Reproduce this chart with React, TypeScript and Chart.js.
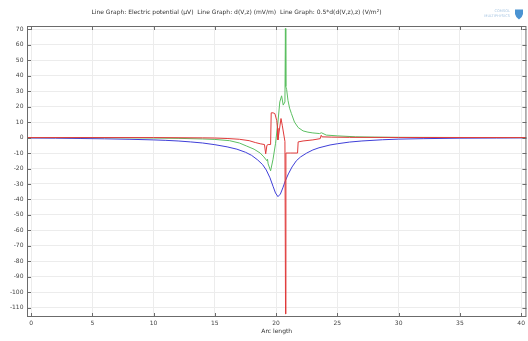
import React, { useEffect, useRef } from "react";
import { Chart, registerables } from "chart.js";

Chart.register(...registerables);

// Electric potential (μV)
const blueX = [-0.33, 0, 2, 4, 6, 8, 10, 11, 12, 13, 14, 15, 16, 16.8, 17.5, 18, 18.5, 18.9, 19.2, 19.5, 19.75, 19.95, 20.15, 20.35, 20.55, 20.75, 21, 21.3, 21.65, 22, 22.5, 23, 23.5, 24.4, 25, 26, 27, 28.7, 30, 32, 35, 38, 40.43];
const blueY = [-0.3, -0.3, -0.4, -0.6, -0.8, -1.1, -1.5, -1.8, -2.2, -2.8, -3.5, -4.6, -6, -7.5, -9.5, -11.5, -14.5, -17.5, -21, -26, -31.5, -35.8, -38.2, -36.5, -32.5, -28, -23.5, -19, -15, -12.5, -10, -8, -6.6, -4.8, -4, -2.9, -2.2, -1.4, -1, -0.7, -0.4, -0.3, -0.2];

// d(V,z) (mV/m)
const greenX = [-0.33, 5, 10, 12, 14, 15, 16.2, 17, 17.6, 18.2, 18.7, 19.0, 19.25, 19.3, 19.35, 19.55, 19.75, 19.95, 20.15, 20.3, 20.45, 20.58, 20.72, 20.76, 20.79, 20.86, 20.97, 21.1, 21.25, 21.5, 21.8, 22.2, 22.6, 23, 23.55, 23.7, 24.1, 25, 26.5, 28, 30, 35, 40.43];
const greenY = [0, 0, -0.3, -0.5, -0.9, -1.2, -2, -3.5, -5.5, -7.5, -10, -12.5, -15, -14, -17, -21.5, -14, -4, 10, 23, 27, 21, 23, 70.5, 33, 31, 24, 19, 15.5, 10, 6.5, 4.3, 3.5, 3, 2.6, 3.1, 1.6, 1.1, 0.5, 0.3, 0.15, 0.05, 0];

// 0.5*d(d(V,z),z) (V/m²)
const redX = [-0.33, 10, 14, 15, 16, 17, 17.8, 18.3, 18.7, 19.05, 19.15, 19.25, 19.35, 19.55, 19.6, 19.75, 19.9, 20.05, 20.12, 20.15, 20.4, 20.5, 20.72, 20.77, 20.8, 21.2, 21.75, 21.8, 22.2, 23, 23.6, 23.68, 23.75, 24.5, 26, 30, 40.43];
const redY = [0, 0, -0.2, -0.3, -0.6, -1.1, -2, -3.2, -4, -4.5, -10.5, -5, -4.5, -4.5, 16, 16, 15.5, 11, 6, -1.5, 12.3, 8, -2.5, -114, -10, -10, -10, -2.8, -2.2, -1.5, -0.7, 1.5, 0.5, 0.3, 0.15, 0.05, 0];

const xTicks = [0, 5, 10, 15, 20, 25, 30, 35, 40];
const yTicks = [70, 60, 50, 40, 30, 20, 10, 0, -10, -20, -30, -40, -50, -60, -70, -80, -90, -100, -110];

const titleMain = "Line Graph: Electric potential (\u03bcV)  Line Graph: d(V,z) (mV/m)  Line Graph: 0.5*d(d(V,z),z) (V/m";
const titleSup = "2";
const titleEnd = ")";
const xTitle = "Arc length";

const FONT = "'DejaVu Sans', sans-serif";

const pts = (xs: number[], ys: number[]) => xs.map((x, i) => ({ x, y: ys[i] }));

const framePlugin = {
  id: "frame",
  afterDraw(chart: any) {
    const { ctx, chartArea: a, scales } = chart;
    const xs = scales.x;
    const ys = scales.y;
    ctx.save();
    ctx.strokeStyle = "#6b6b6b";
    ctx.lineWidth = 1;
    ctx.strokeRect(a.left + 0.5, a.top + 0.5, a.right - a.left - 1, a.bottom - a.top - 1);
    ctx.beginPath();
    for (const t of xs.ticks) {
      const px = Math.round(xs.getPixelForValue(t.value)) + 0.5;
      ctx.moveTo(px, a.bottom);
      ctx.lineTo(px, a.bottom - 4);
      ctx.moveTo(px, a.top);
      ctx.lineTo(px, a.top + 4);
    }
    for (const t of ys.ticks) {
      const py = Math.round(ys.getPixelForValue(t.value)) + 0.5;
      ctx.moveTo(a.left, py);
      ctx.lineTo(a.left + 4, py);
      ctx.moveTo(a.right, py);
      ctx.lineTo(a.right - 4, py);
    }
    ctx.stroke();

    // x axis title
    ctx.fillStyle = "#333";
    ctx.font = `6px ${FONT}`;
    ctx.textAlign = "center";
    ctx.textBaseline = "middle";
    ctx.fillText(xTitle, (a.left + a.right) / 2, 331.5);

    // chart title
    ctx.textAlign = "left";
    const w1 = ctx.measureText(titleMain).width;
    ctx.font = `4px ${FONT}`;
    const w2 = ctx.measureText(titleSup).width;
    ctx.font = `6px ${FONT}`;
    const w3 = ctx.measureText(titleEnd).width;
    const total = w1 + w2 + w3;
    const x0 = 236.5 - total / 2;
    ctx.fillText(titleMain, x0, 12.5);
    ctx.font = `4px ${FONT}`;
    ctx.fillText(titleSup, x0 + w1, 10.5);
    ctx.font = `6px ${FONT}`;
    ctx.fillText(titleEnd, x0 + w1 + w2, 12.5);

    // logo
    ctx.textAlign = "right";
    ctx.fillStyle = "#a9c6e2";
    ctx.font = `3.6px ${FONT}`;
    ctx.fillText("COMSOL", 510, 11.5);
    ctx.fillText("MULTIPHYSICS", 510, 16.5);
    ctx.fillStyle = "#4a93d2";
    ctx.beginPath();
    ctx.moveTo(515, 9.5);
    ctx.lineTo(523, 9.5);
    ctx.lineTo(523, 14);
    ctx.quadraticCurveTo(522, 18, 519, 19.5);
    ctx.quadraticCurveTo(516, 18, 515, 14);
    ctx.closePath();
    ctx.fill();
    ctx.restore();
  },
};

export default function App() {
  const ref = useRef<HTMLCanvasElement>(null);
  useEffect(() => {
    if (!ref.current) return;
    const tickFont = { size: 6, family: FONT };
    const chart = new Chart(ref.current, {
      type: "line",
      data: {
        datasets: [
          { label: "red", data: pts(redX, redY), borderColor: "#e03a3a", borderWidth: 1, pointRadius: 0, tension: 0 },
          { label: "green", data: pts(greenX, greenY), borderColor: "#5cbf62", borderWidth: 1, pointRadius: 0, tension: 0 },
          { label: "blue", data: pts(blueX, blueY), borderColor: "#3f3fd8", borderWidth: 1, pointRadius: 0, tension: 0 },
        ],
      },
      options: {
        animation: false,
        responsive: false,
        layout: { padding: { top: 26, right: 1, left: 0, bottom: 0 } },
        plugins: { legend: { display: false }, tooltip: { enabled: false }, title: { display: false } },
        scales: {
          x: {
            type: "linear",
            min: -0.33,
            max: 40.43,
            afterBuildTicks: (s: any) => { s.ticks = xTicks.map((v) => ({ value: v })); },
            afterFit: (s: any) => { s.height = 24; },
            ticks: { font: tickFont, color: "#444", padding: 3, maxRotation: 0, autoSkip: false },
            grid: { color: "#ececec", drawTicks: false },
            border: { display: false },
          },
          y: {
            type: "linear",
            min: -116,
            max: 72.13,
            afterBuildTicks: (s: any) => { s.ticks = yTicks.map((v) => ({ value: v })); },
            afterFit: (s: any) => { s.width = 27; },
            ticks: { font: tickFont, color: "#444", padding: 3.5, autoSkip: false },
            grid: { color: "#ececec", drawTicks: false },
            border: { display: false },
          },
        },
      },
      plugins: [framePlugin],
    } as any);
    return () => chart.destroy();
  }, []);
  return (
    <div style={{ position: "fixed", left: 0, top: 0, width: 528, height: 341, background: "#fff" }}>
      <canvas ref={ref} width={528} height={341} style={{ width: 528, height: 341, display: "block" }} />
    </div>
  );
}
